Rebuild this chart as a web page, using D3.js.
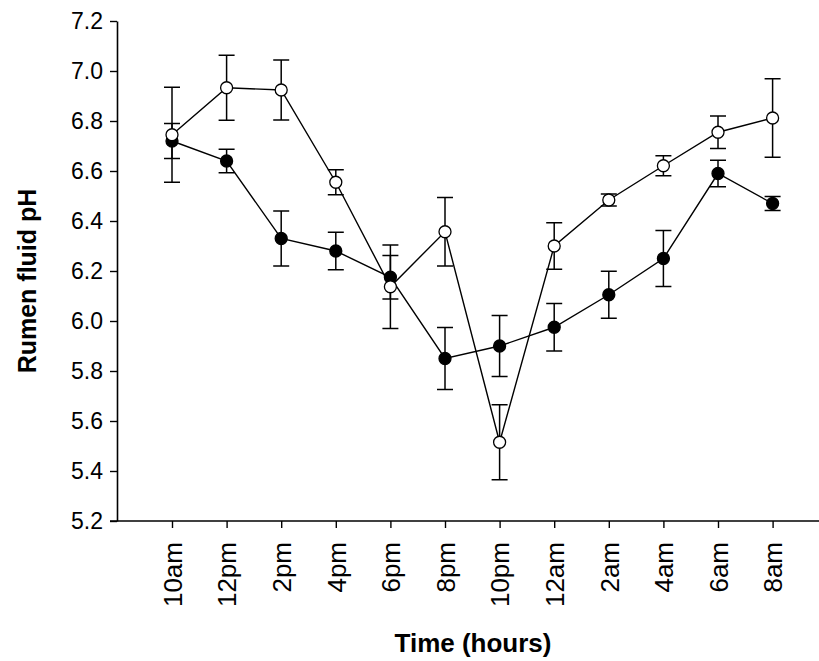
<!DOCTYPE html>
<html>
<head>
<meta charset="utf-8">
<script src="https://cdn.jsdelivr.net/npm/d3@7"></script>
<style>
  html, body { margin: 0; padding: 0; background: #fff; }
  svg text { font-family: "Liberation Sans", Arial, sans-serif; fill: #000; }
</style>
</head>
<body>
<svg id="svg"></svg>
<script>
const times = ["10am", "12pm", "2pm", "4pm", "6pm", "8pm", "10pm", "12am", "2am", "4am", "6am", "8am"];

// filled circles
const filledMean = [6.72, 6.64, 6.33, 6.28, 6.175, 5.85, 5.90, 5.975, 6.105, 6.25, 6.59, 6.47];
const filledErr  = [0.07, 0.047, 0.11, 0.075, 0.087, 0.124, 0.122, 0.095, 0.094, 0.112, 0.053, 0.028];

// open circles
const openMean = [6.745, 6.933, 6.924, 6.555, 6.137, 6.357, 5.515, 6.30, 6.484, 6.621, 6.755, 6.812];
const openErr  = [0.19, 0.13, 0.12, 0.05, 0.167, 0.137, 0.15, 0.093, 0.024, 0.04, 0.065, 0.157];

const yTicks = [5.2, 5.4, 5.6, 5.8, 6.0, 6.2, 6.4, 6.6, 6.8, 7.0, 7.2];

let layout = {"width": 819, "height": 661,
              "axisX": 117, "axisY": 521, "top": 21};

let svgElement = d3.select("#svg")
    .attr("width", layout.width)
    .attr("height", layout.height);

let xScale = d3.scalePoint()
    .domain(times)
    .range([172, 772.6]);

let yScale = d3.scaleLinear()
    .domain([5.2, 7.2])
    .range([layout.axisY, layout.top]);

// axes
let yAxis = svgElement.append("g")
    .attr("transform", `translate(${layout.axisX},0)`)
    .call(d3.axisLeft(yScale).tickValues(yTicks).tickFormat(d3.format(".1f"))
          .tickSize(7).tickPadding(7).tickSizeOuter(0));
yAxis.select(".domain").attr("stroke-width", 1.6);
yAxis.selectAll(".tick line").attr("stroke-width", 1.4);
yAxis.selectAll("text").attr("font-size", 23).attr("fill", "#000");

let xAxis = svgElement.append("g")
    .attr("transform", `translate(0,${layout.axisY})`)
    .call(d3.axisBottom(xScale).tickSize(7).tickSizeOuter(0));
xAxis.select(".domain").remove();
xAxis.append("line")
    .attr("x1", layout.axisX - 7).attr("x2", layout.width + 5)
    .attr("stroke", "#000").attr("stroke-width", 1.6);
xAxis.selectAll(".tick line").attr("stroke-width", 1.4);
xAxis.selectAll("text")
    .attr("font-size", 26)
    .attr("fill", "#000")
    .attr("text-anchor", "end")
    .attr("transform", "rotate(-90)")
    .attr("x", -21)
    .attr("y", 0)
    .attr("dy", "0.36em");

svgElement.append("text")
    .attr("text-anchor", "middle")
    .attr("font-size", 25)
    .attr("font-weight", "bold")
    .attr("transform", "translate(36,281) rotate(-90)")
    .text("Rumen fluid pH");

svgElement.append("text")
    .attr("text-anchor", "middle")
    .attr("font-size", 26)
    .attr("font-weight", "bold")
    .attr("x", 473)
    .attr("y", 652)
    .text("Time (hours)");

// series
const series = [
  {name: "filled", mean: filledMean, err: filledErr, fill: "#000"},
  {name: "open", mean: openMean, err: openErr, fill: "#fff"}
];

let lineFunction = d3.line()
    .x((d, i) => xScale(times[i]))
    .y(d => yScale(d));

let capHalf = 8;

series.forEach(s => {
  let g = svgElement.append("g").attr("class", s.name);

  g.append("path")
    .attr("d", lineFunction(s.mean))
    .attr("fill", "none")
    .attr("stroke", "#000")
    .attr("stroke-width", 1.4);

  let rows = s.mean.map((m, i) => ({t: times[i], m: m, e: s.err[i]}));

  let eb = g.selectAll(".eb").data(rows).join("g").attr("class", "eb")
    .attr("stroke", "#000").attr("stroke-width", 1.5);
  eb.append("line")
    .attr("x1", d => xScale(d.t)).attr("x2", d => xScale(d.t))
    .attr("y1", d => yScale(d.m - d.e)).attr("y2", d => yScale(d.m + d.e));
  eb.append("line")
    .attr("x1", d => xScale(d.t) - capHalf).attr("x2", d => xScale(d.t) + capHalf)
    .attr("y1", d => yScale(d.m + d.e)).attr("y2", d => yScale(d.m + d.e));
  eb.append("line")
    .attr("x1", d => xScale(d.t) - capHalf).attr("x2", d => xScale(d.t) + capHalf)
    .attr("y1", d => yScale(d.m - d.e)).attr("y2", d => yScale(d.m - d.e));

  g.selectAll("circle").data(rows).join("circle")
    .attr("cx", d => xScale(d.t))
    .attr("cy", d => yScale(d.m))
    .attr("r", 6)
    .attr("fill", s.fill)
    .attr("stroke", "#000")
    .attr("stroke-width", 1.3);
});
</script>
</body>
</html>
